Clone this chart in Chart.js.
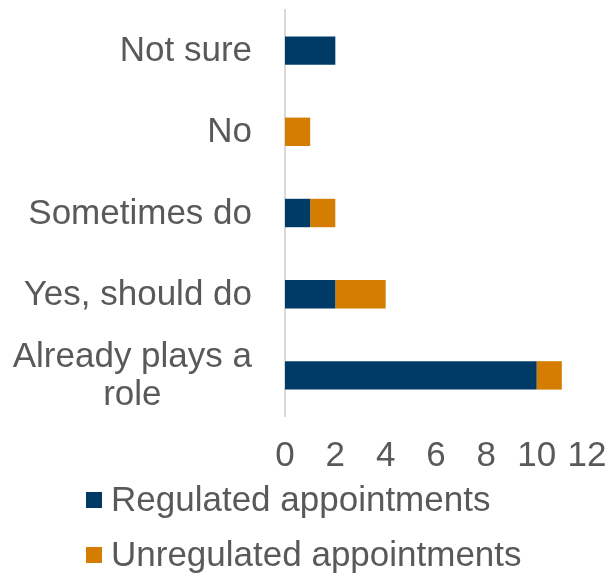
<!DOCTYPE html>
<html>
<head>
<meta charset="utf-8">
<script src="https://cdn.jsdelivr.net/npm/chart.js@4.4.1/dist/chart.umd.min.js"></script>
<style>
  html, body { margin: 0; padding: 0; background: #ffffff; }
  #wrap { width: 610px; height: 579px; position: relative; }
</style>
</head>
<body>
<div id="wrap"><canvas id="chart"></canvas></div>
<script>
// Survey answers, listed top to bottom
const categories = ['Not sure', 'No', 'Sometimes do', 'Yes, should do', ['Already plays a', 'role']];
const seriesNames = ['Regulated appointments', 'Unregulated appointments'];
const regulated = [2, 0, 1, 2, 10];
const unregulated = [0, 1, 1, 2, 1];
const xTicks = [0, 2, 4, 6, 8, 10, 12];

const TEXT = '#595959';
const FONT = '"Liberation Sans", Arial, sans-serif';
const SIZE = 35;

// Category labels: right-aligned, wrapped lines centred on each other
const yLabelPlugin = {
  id: 'yLabels',
  afterDraw(chart) {
    const ctx = chart.ctx;
    const y = chart.scales.y;
    const right = 252;
    ctx.save();
    ctx.font = SIZE + 'px ' + FONT;
    ctx.fillStyle = TEXT;
    ctx.textBaseline = 'middle';
    ctx.textAlign = 'center';
    const lh = 38;
    chart.data.labels.forEach((lab, i) => {
      const lines = Array.isArray(lab) ? lab : [lab];
      const w = Math.max(...lines.map(l => ctx.measureText(l).width));
      const cx = right - w / 2;
      const cy = y.getPixelForValue(i) + 1;
      lines.forEach((l, k) => {
        ctx.fillText(l, cx, cy + (k - (lines.length - 1) / 2) * lh);
      });
    });
    ctx.restore();
  }
};

// Legend stacked in two rows below the value axis
const legendPlugin = {
  id: 'stackLegend',
  afterDraw(chart) {
    const ctx = chart.ctx;
    ctx.save();
    ctx.font = SIZE + 'px ' + FONT;
    ctx.textBaseline = 'middle';
    ctx.textAlign = 'left';
    const rows = [500, 555];
    chart.data.datasets.forEach((ds, i) => {
      const cy = rows[i];
      ctx.fillStyle = ds.backgroundColor;
      ctx.fillRect(86, cy - 8, 16, 16);
      ctx.fillStyle = TEXT;
      ctx.fillText(ds.label, 111, cy + 1);
    });
    ctx.restore();
  }
};

new Chart(document.getElementById('chart'), {
  type: 'bar',
  data: {
    labels: categories,
    datasets: [
      { label: seriesNames[0], data: regulated, backgroundColor: '#003b68' },
      { label: seriesNames[1], data: unregulated, backgroundColor: '#d47d00' }
    ]
  },
  options: {
    indexAxis: 'y',
    responsive: true,
    maintainAspectRatio: false,
    animation: false,
    datasets: { bar: { barPercentage: 0.35, categoryPercentage: 1, borderWidth: 0 } },
    layout: { padding: { left: 285, right: 23, top: 10, bottom: 83 } },
    plugins: { legend: { display: false }, tooltip: { enabled: false } },
    scales: {
      x: {
        stacked: true,
        min: 0,
        max: 12,
        afterBuildTicks(scale) { scale.ticks = xTicks.map(v => ({ value: v })); },
        afterFit(scale) { scale.paddingLeft = 0; scale.paddingRight = 0; },
        grid: { display: false, drawTicks: false },
        border: { display: false },
        ticks: { color: TEXT, font: { family: FONT, size: SIZE }, padding: 19, maxRotation: 0 }
      },
      y: {
        stacked: true,
        grid: { display: false, drawTicks: false },
        border: { display: true, color: '#d9d9d9', width: 2 },
        ticks: { display: false }
      }
    }
  },
  plugins: [yLabelPlugin, legendPlugin]
});
</script>
</body>
</html>
